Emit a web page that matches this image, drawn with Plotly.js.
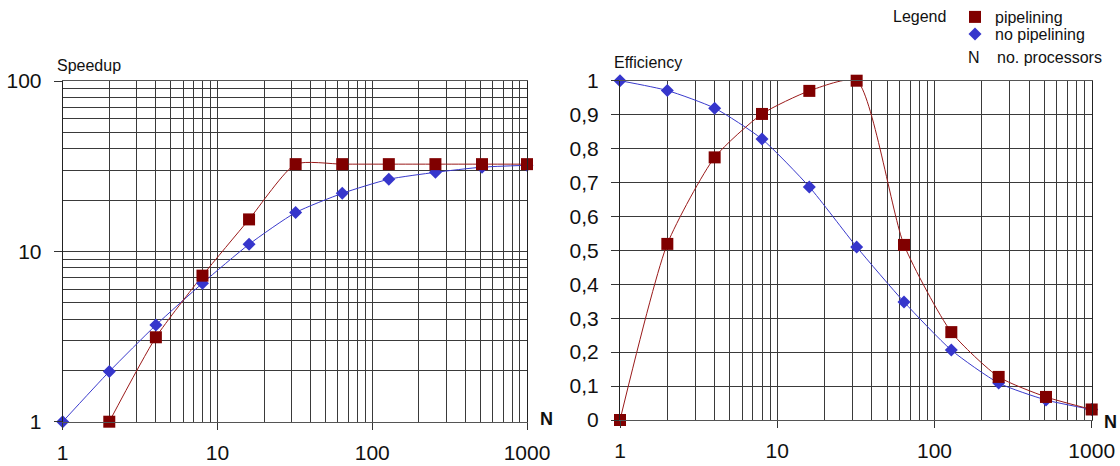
<!DOCTYPE html>
<html><head><meta charset="utf-8">
<script src="https://cdn.plot.ly/plotly-3.0.1.min.js"></script>
<style>html,body{margin:0;padding:0;background:#fff}#chart{width:1120px;height:466px}</style>
</head><body><div id="chart"></div>
<script>
// ---- data ----
const N = [1, 2, 4, 8, 16, 32, 64, 128, 256, 512, 1000];
const speedupPipelining   = [null, 1.0, 3.13, 7.2, 15.4, 32.5, 32.5, 32.5, 32.5, 32.5, 32.5];
const speedupNoPipelining = [1, 1.97, 3.69, 6.5, 11.0, 16.9, 21.9, 26.5, 29.1, 31.2, 32.0];
const efficiencyPipelining   = [0, 0.519, 0.774, 0.902, 0.97, 1.0, 0.516, 0.259, 0.127, 0.068, 0.031];
const efficiencyNoPipelining = [1, 0.971, 0.919, 0.828, 0.687, 0.51, 0.348, 0.206, 0.109, 0.059, 0.031];
const seriesNames = ['pipelining', 'no pipelining'];
const logTickVals = [1, 10, 100, 1000];
const logTickText = ['1', '10', '100', '1000'];
const speedTickVals = [1, 10, 100];
const speedTickText = ['1', '10', '100'];

// minor log grid positions (2..9 in each decade)
function minorVals(decades) {
  const out = [];
  decades.forEach(d => { for (let m = 2; m <= 9; m++) out.push(m * d); });
  return out;
}

const RED = '#800000', REDLINE = '#9a1a1a';
const BLUE = '#3636cc', BLUELINE = '#3a3acc';
const GRID = '#3a3a3a';
const FONT = '"Liberation Sans", Arial, sans-serif';

function lineTrace(y, color, xa, ya, smooth) {
  return {x: N, y: y, xaxis: xa, yaxis: ya, mode: 'lines', type: 'scatter',
    line: {color: color, width: 1, shape: 'spline', smoothing: smooth},
    connectgaps: false, showlegend: false, hoverinfo: 'skip', cliponaxis: true};
}
function markerTrace(y, name, sym, size, color, xa, ya, show, leg) {
  return {x: N, y: y, xaxis: xa, yaxis: ya, mode: 'markers', type: 'scatter', name: name,
    marker: {symbol: sym, size: size, color: color, line: {width: 0}},
    showlegend: show, legend: leg, cliponaxis: false};
}

const traces = [
  lineTrace(speedupNoPipelining, BLUELINE, 'x', 'y', 0.6),
  lineTrace(speedupPipelining, REDLINE, 'x', 'y', 0.6),
  markerTrace(speedupNoPipelining, seriesNames[1], 'diamond', 10, BLUE, 'x', 'y', false, 'legend2'),
  markerTrace(speedupPipelining, seriesNames[0], 'square', 12, RED, 'x', 'y', true, 'legend'),
  lineTrace(efficiencyNoPipelining, BLUELINE, 'x2', 'y2', 0.6),
  lineTrace(efficiencyPipelining, REDLINE, 'x2', 'y2', 0.6),
  markerTrace(efficiencyNoPipelining, seriesNames[1], 'diamond', 10, BLUE, 'x2', 'y2', true, 'legend2'),
  markerTrace(efficiencyPipelining, seriesNames[0], 'square', 12, RED, 'x2', 'y2', false, 'legend')
];

const W = 1120, H = 466;
function logX(domainPx, anchor) {
  return {type: 'log', range: [0, 3], domain: [domainPx[0] / W, domainPx[1] / W], anchor: anchor,
    tickmode: 'array', tickvals: logTickVals, ticktext: logTickText,
    ticks: 'outside', ticklen: 7, tickwidth: 1, tickcolor: '#333',
    showline: true, linecolor: '#555', linewidth: 1, mirror: true,
    showgrid: true, gridcolor: GRID, gridwidth: 1, zeroline: false,
    minor: {tickmode: 'array', tickvals: minorVals([1, 10, 100]), showgrid: true, gridcolor: GRID, gridwidth: 1, ticks: ''},
    tickfont: {family: FONT, size: 21, color: '#111'}, ticklabelstandoff: 5, fixedrange: true};
}
function legendBox(yTopPx) {
  return {x: 955 / W, xanchor: 'left', y: 1 - yTopPx / H, yanchor: 'top', bgcolor: 'rgba(0,0,0,0)',
    borderwidth: 0, font: {family: FONT, size: 16, color: '#111'}, tracegroupgap: 0,
    itemclick: false, itemdoubleclick: false};
}

const layout = {
  width: W, height: H,
  margin: {l: 0, r: 0, t: 0, b: 0},
  paper_bgcolor: '#fff', plot_bgcolor: '#fff',
  separators: ',.',
  font: {family: FONT, color: '#111'},
  xaxis: logX([62.7, 527], 'y'),
  yaxis: {type: 'log', range: [0, 2], domain: [1 - 421.7 / H, 1 - 81 / H], anchor: 'x',
    tickmode: 'array', tickvals: speedTickVals, ticktext: speedTickText,
    ticks: 'outside', ticklen: 8, tickwidth: 1, tickcolor: '#333',
    showline: true, linecolor: '#222', linewidth: 1, mirror: true,
    showgrid: true, gridcolor: GRID, gridwidth: 1, zeroline: false,
    minor: {tickmode: 'array', tickvals: minorVals([1, 10]), showgrid: true, gridcolor: GRID, gridwidth: 1, ticks: ''},
    tickfont: {family: FONT, size: 21, color: '#111'}, ticklabelstandoff: 8, fixedrange: true},
  xaxis2: logX([620, 1091.7], 'y2'),
  yaxis2: {range: [0, 1], domain: [1 - 420 / H, 1 - 80.7 / H], anchor: 'x2',
    tickmode: 'linear', tick0: 0, dtick: 0.1,
    ticks: 'outside', ticklen: 8, tickwidth: 1, tickcolor: '#333',
    showline: true, linecolor: '#222', linewidth: 1, mirror: true,
    showgrid: true, gridcolor: GRID, gridwidth: 1, zeroline: false,
    tickfont: {family: FONT, size: 21, color: '#111'}, ticklabelstandoff: 8, fixedrange: true},
  showlegend: true,
  legend: legendBox(0),
  legend2: legendBox(17),
  annotations: [
    {text: 'Speedup', xref: 'paper', yref: 'paper', x: 55 / W, y: 1 - 65 / H, xanchor: 'left', yanchor: 'middle', showarrow: false, font: {size: 16, color: '#111'}},
    {text: 'Efficiency', xref: 'paper', yref: 'paper', x: 612 / W, y: 1 - 62.7 / H, xanchor: 'left', yanchor: 'middle', showarrow: false, font: {size: 16, color: '#111'}},
    {text: '<b>N</b>', xref: 'paper', yref: 'paper', x: 546.7 / W, y: 1 - 419 / H, xanchor: 'center', yanchor: 'middle', showarrow: false, font: {size: 18, color: '#111'}},
    {text: '<b>N</b>', xref: 'paper', yref: 'paper', x: 1110 / W, y: 1 - 421.7 / H, xanchor: 'center', yanchor: 'middle', showarrow: false, font: {size: 18, color: '#111'}},
    {text: 'Legend', xref: 'paper', yref: 'paper', x: 891 / W, y: 1 - 16.7 / H, xanchor: 'left', yanchor: 'middle', showarrow: false, font: {size: 16, color: '#111'}},
    {text: 'N', xref: 'paper', yref: 'paper', x: 966 / W, y: 1 - 58 / H, xanchor: 'left', yanchor: 'middle', showarrow: false, font: {size: 16, color: '#111'}},
    {text: 'no. processors', xref: 'paper', yref: 'paper', x: 995 / W, y: 1 - 58 / H, xanchor: 'left', yanchor: 'middle', showarrow: false, font: {size: 16, color: '#111'}}
  ]
};

Plotly.newPlot('chart', traces, layout, {staticPlot: true, displayModeBar: false});
</script>
</body></html>
